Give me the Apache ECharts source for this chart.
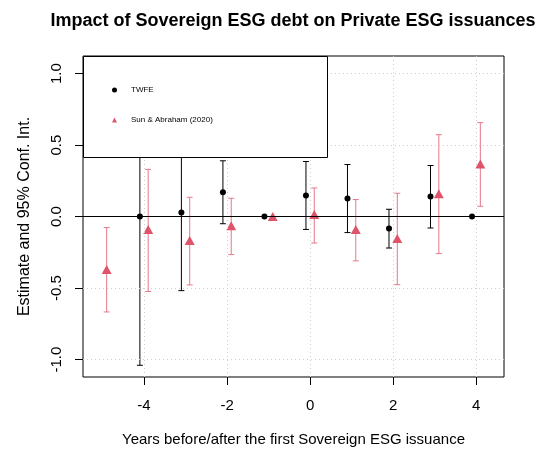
<!DOCTYPE html>
<html>
<head>
<meta charset="utf-8">
<script src="https://cdn.jsdelivr.net/npm/echarts@6/dist/echarts.min.js"></script>
<style>
  html, body { margin: 0; padding: 0; background: #fff; }
  #chart { width: 540px; height: 452px; }
</style>
</head>
<body>
<div id="chart"></div>
<script>
// years relative to the first sovereign ESG issuance
var years = [-5, -4, -3, -2, -1, 0, 1, 2, 3, 4];

// TWFE estimates and 95% CI (null = not estimated / reference)
var twfeEst  = [null, 0.000, 0.028, 0.170, 0, 0.147, 0.126, -0.084, 0.140, 0];
var twfeLow  = [null, -1.040, -0.518, -0.050, null, -0.090, -0.112, -0.220, -0.080, null];
var twfeHigh = [null, 1.040, 0.574, 0.390, null, 0.385, 0.364, 0.051, 0.357, null];

// Sun & Abraham (2020) estimates and 95% CI
var saEst  = [-0.370, -0.090, -0.168, -0.065, 0, 0.014, -0.090, -0.154, 0.160, 0.368];
var saLow  = [-0.667, -0.524, -0.478, -0.266, null, -0.185, -0.310, -0.476, -0.259, 0.072];
var saHigh = [-0.077, 0.330, 0.135, 0.128, null, 0.200, 0.119, 0.163, 0.573, 0.657];

var xTicks = [-4, -2, 0, 2, 4];
var yTicks = [-1, -0.5, 0, 0.5, 1];

var RED = '#DF536B';
var FONT = '"Liberation Sans", Arial, sans-serif';

// small horizontal shift so the two estimators don't overlap
var shift = 0.1;

function points(est, dx) {
  var out = [];
  for (var i = 0; i < years.length; i++) {
    if (est[i] === null) continue;
    out.push([years[i] + dx, est[i]]);
  }
  return out;
}
function bars(low, high, dx) {
  var out = [];
  for (var i = 0; i < years.length; i++) {
    if (low[i] === null || high[i] === null) continue;
    out.push([years[i] + dx, low[i], high[i]]);
  }
  return out;
}

function errorBar(color) {
  return function(params, api) {
    var x = api.value(0);
    var lo = api.coord([x, api.value(1)]);
    var hi = api.coord([x, api.value(2)]);
    var cap = 3;
    var st = { stroke: color, lineWidth: 1 };
    return {
      type: 'group',
      children: [
        { type: 'line', shape: { x1: lo[0], y1: lo[1], x2: hi[0], y2: hi[1] }, style: st },
        { type: 'line', shape: { x1: hi[0] - cap, y1: hi[1], x2: hi[0] + cap, y2: hi[1] }, style: st },
        { type: 'line', shape: { x1: lo[0] - cap, y1: lo[1], x2: lo[0] + cap, y2: lo[1] }, style: st }
      ]
    };
  };
}

var gridLines = [];
xTicks.forEach(function(v) { gridLines.push({ xAxis: v }); });
yTicks.forEach(function(v) { if (v !== 0) gridLines.push({ yAxis: v }); });

var chart = echarts.init(document.getElementById('chart'), null, { renderer: 'canvas' });

var option = {
  backgroundColor: '#fff',
  animation: false,
  title: {
    text: 'Impact of Sovereign ESG debt on Private ESG issuances',
    left: 288,
    textAlign: 'center',
    top: 7,
    textStyle: { fontFamily: FONT, fontSize: 18, fontWeight: 'bold', color: '#000' }
  },
  grid: {
    left: 83, right: 36, top: 56, bottom: 75,
    show: true, borderColor: '#000', borderWidth: 1
  },
  legend: {
    orient: 'vertical',
    left: 84, top: 57,
    z: 20,
    padding: [29, 10, 27, 28],
    itemGap: 22,
    itemWidth: 5, itemHeight: 5,
    textStyle: { fontFamily: FONT, fontSize: 8, color: '#000', padding: [0, 0, 0, 9] },
    data: [
      { name: 'TWFE', icon: 'circle', itemStyle: { color: '#000', opacity: 1 } },
      { name: 'Sun & Abraham (2020)', icon: 'triangle', itemStyle: { color: RED, opacity: 1 } }
    ]
  },
  graphic: [{
    type: 'rect',
    z: 10,
    shape: { x: 83.5, y: 56.5, width: 244, height: 101 },
    style: { fill: '#fff', stroke: '#000', lineWidth: 1 }
  }],
  xAxis: {
    type: 'value',
    min: -5.47, max: 4.67,
    name: 'Years before/after the first Sovereign ESG issuance',
    nameLocation: 'middle',
    nameGap: 55,
    nameTextStyle: { fontFamily: FONT, fontSize: 15, color: '#000' },
    axisLine: { show: false, onZero: false },
    axisTick: { show: true, length: 8, customValues: xTicks, lineStyle: { color: '#000' } },
    axisLabel: { customValues: xTicks, margin: 21, fontFamily: FONT, fontSize: 15, color: '#000' },
    splitLine: { show: false }
  },
  yAxis: {
    type: 'value',
    min: -1.122, max: 1.123,
    name: 'Estimate and 95% Conf. Int.',
    nameLocation: 'middle',
    nameGap: 50,
    nameTextStyle: { fontFamily: FONT, fontSize: 16, color: '#000' },
    axisLine: { show: false, onZero: false },
    axisTick: { show: true, length: 8, customValues: yTicks, lineStyle: { color: '#000' } },
    axisLabel: {
      customValues: yTicks, rotate: 90, margin: 19,
      fontFamily: FONT, fontSize: 15, color: '#000',
      formatter: function(v) { return v.toFixed(1); }
    },
    splitLine: { show: false }
  },
  series: [
    {
      name: 'grid',
      type: 'line',
      data: [],
      silent: true,
      markLine: {
        silent: true,
        symbol: 'none',
        label: { show: false },
        lineStyle: { color: '#cfcfcf', type: [1, 3], width: 1 },
        data: gridLines.concat([{ yAxis: 0, lineStyle: { color: '#000', type: 'solid', width: 1 } }])
      }
    },
    {
      name: 'TWFE ci',
      type: 'custom',
      renderItem: errorBar('#000'),
      data: bars(twfeLow, twfeHigh, -shift),
      encode: { x: 0, y: [1, 2] },
      silent: true
    },
    {
      name: 'TWFE',
      type: 'scatter',
      symbol: 'circle',
      symbolSize: 6,
      itemStyle: { color: '#000', opacity: 1 },
      data: points(twfeEst, -shift)
    },
    {
      name: 'SA ci',
      type: 'custom',
      renderItem: errorBar('#E5788A'),
      data: bars(saLow, saHigh, shift),
      encode: { x: 0, y: [1, 2] },
      silent: true
    },
    {
      name: 'Sun & Abraham (2020)',
      type: 'scatter',
      symbol: 'triangle',
      symbolSize: [10, 9],
      itemStyle: { color: RED, opacity: 1 },
      data: points(saEst, shift)
    }
  ]
};

chart.setOption(option);
window.onresize = chart.resize;
</script>
</body>
</html>
